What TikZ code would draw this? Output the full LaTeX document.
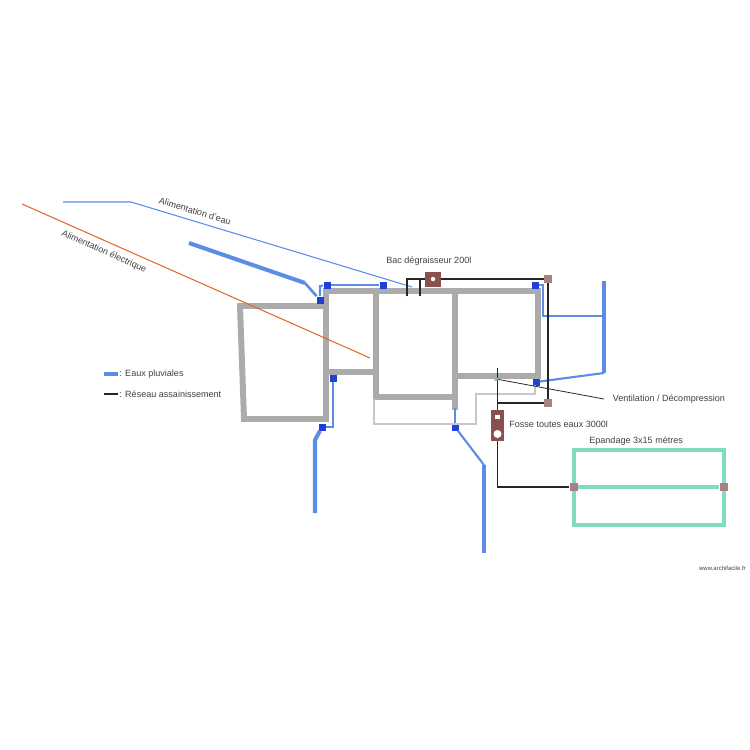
\documentclass[tikz,border=0pt]{standalone}
\usepackage{fontspec}
\setmainfont{Liberation Sans}
\usetikzlibrary{positioning,calc}
\definecolor{wallgray}{HTML}{ABABAB}
\definecolor{pluie}{HTML}{5B8CE6}
\definecolor{regard}{HTML}{1F3FD6}
\definecolor{cuve}{HTML}{8A4F4F}
\definecolor{raccord}{HTML}{A88282}
\definecolor{drain}{HTML}{7FDCC0}
\definecolor{elec}{HTML}{E2682F}
\tikzset{
    wall/.style={draw=wallgray,line width=3.4pt},
    rain/.style={draw=pluie,line width=1.2pt},
    rainbig/.style={draw=pluie,line width=2.3pt},
    sewer/.style={draw=black!85,line width=.6pt},
    regardbox/.style={fill=regard,minimum size=.14cm,inner sep=0pt},
    raccordbox/.style={fill=raccord,minimum size=.16cm,inner sep=0pt},
    label/.style={font=\fontsize{5.15pt}{6.5pt}\selectfont,text=black!75,inner sep=0pt},
}
\begin{document}
\begin{tikzpicture}[x=.02cm,y=-.02cm]
    \useasboundingbox (0,0) rectangle (750,750);

    % murs
    \draw[wall,line join=miter] (326,419) -- (244,419) -- (240,306) -- (326,306);
    \draw[wall] (326,288) -- (326,422);
    \draw[wall] (323,291) -- (541,291);
    \draw[wall] (538,291) -- (538,379);
    \draw[wall] (376,291) -- (376,400);
    \draw[wall] (326,372) -- (376,372);
    \draw[wall] (376,397) -- (457,397);
    \draw[wall] (455,291) -- (455,410);
    \draw[wall] (455,376) -- (538,376);

    % points de raccordement
    \node[regardbox] (r1) at (320,300) {};
    \node[regardbox] (r2) at (327,285) {};
    \node[regardbox] (r3) at (383,285) {};
    \node[regardbox] (r4) at (535,285) {};
    \node[regardbox] (r5) at (333,378) {};
    \node[regardbox] (r6) at (322,427) {};
    \node[regardbox] (r7) at (455,427) {};
    \node[regardbox] (r8) at (536,382) {};

    \coordinate (gout) at (189,243);
    \coordinate (coude) at (305,283);
    \coordinate (sud) at (315,440);
    \coordinate (sudend) at (315,513);
    \coordinate (est) at (484,465);
    \coordinate (estend) at (484,553);
    \coordinate (murbas) at (455,408);
    \coordinate (toit1) at (604,281);
    \coordinate (toit2) at (604,373);
    \coordinate (toit3) at (604,316);

    % eaux pluviales
    \draw[rainbig] (gout) -- (coude);
    \draw[rain,line width=1.5pt] (coude) -- (r1);
    \draw[rain] (r1) -- (320,286) -- (r2);
    \draw[rain] (r2) -- (r3);
    \draw[rain] (r5) -- (333,427) -- (r6);
    \draw[rainbig,line join=round] (r6) -- (sud) -- (sudend);
    \draw[rain] (murbas) -- (r7);
    \draw[rain] (r7) -- (est);
    \draw[rainbig] (est) -- (estend);
    \draw[rain] (r4) -- (543,285) -- (543,316) -- (toit3);
    \draw[rainbig] (toit1) -- (toit2);
    \draw[rain] (r8) -- (toit2);

    % alimentations
    \coordinate (eau1) at (63,202);
    \coordinate (eau2) at (131,202);
    \coordinate (eau3) at (412,287);
    \coordinate (el1) at (22,204);
    \coordinate (el2) at (370,358);
    \draw[pluie,line width=.6pt] (eau1) -- (eau2) -- (eau3);
    \draw[elec,line width=.6pt] (el1) -- (el2);

    % ancien reseau
    \draw[black!22,line width=.6pt] (374,399) -- (374,424) -- (476,424) -- (476,394) -- (535,394) -- (535,385);

    % assainissement
    \node[fill=cuve,minimum width=.32cm,minimum height=.3cm,inner sep=0pt] (bac) at (433,279) {};
    \node[fill=white,circle,minimum size=.09cm,inner sep=0pt] (bactrou) at (bac) {};
    \node[fill=cuve,minimum width=.27cm,minimum height=.62cm,inner sep=0pt] (fosse) at (497.5,425.5) {};
    \node[fill=white,minimum width=.11cm,minimum height=.09cm,inner sep=0pt] (fossea) at (497.5,417) {};
    \node[fill=white,circle,minimum size=.16cm,inner sep=0pt] (fosseb) at (497.5,434) {};
    \node[raccordbox] (c1) at (548,279) {};
    \node[raccordbox] (c2) at (548,403) {};

    \draw[sewer] (407,296) -- (407,279) -- (bac.west);
    \draw[sewer] (420,279) -- (420,296);
    \draw[sewer] (bac.east) -- (c1);
    \draw[sewer] (c1) -- (c2);
    \draw[sewer] (c2) -- (497.5,403);
    \draw[sewer] (497.5,368) -- (fosse.north);

    % epandage
    \draw[drain,line width=2pt] (574,450) rectangle (724,525);
    \node[raccordbox] (d1) at (573.5,487) {};
    \node[raccordbox] (d2) at (723.5,487) {};
    \draw[drain,line width=2pt] (d1) -- (d2);
    \draw[sewer] (fosse.south) -- (497.5,487) -- (d1);

    % ventilation
    \node[circle,fill=drain!70!gray,minimum size=.08cm,inner sep=0pt] (vent) at (496,379) {};
    \coordinate (ventend) at (604,399);
    \draw[black!85,line width=.45pt] (vent) -- (ventend);

    % textes
    \node[label,rotate=-17] (teau) at (195,211) {Alimentation d'eau};
    \node[label,rotate=-24] (telec) at (104,252) {Alimentation électrique};
    \node[label,anchor=west] (tbac) at (386,261) {Bac dégraisseur 200l};
    \node[label,anchor=west] (tvent) at (612.5,399) {Ventilation / Décompression};
    \node[label,anchor=west] (tfosse) at (509,424) {Fosse toutes eaux 3000l};
    \node[label,anchor=west] (tepan) at (589,441) {Epandage 3x15 mètres};
    \node[label,anchor=west] (tlp) at (119,374.5) {: Eaux pluviales};
    \node[label,anchor=west] (tla) at (119,394.5) {: Réseau assainissement};
    \node[label,anchor=east,font=\fontsize{3.4pt}{5pt}\selectfont] (tsite) at (746,568) {www.archifacile.fr};

    % legende
    \coordinate (lp) at (104,374);
    \coordinate (la) at (104,394);
    \draw[rainbig] (lp) -- +(14,0);
    \draw[sewer] (la) -- +(14,0);
\end{tikzpicture}
\end{document}
